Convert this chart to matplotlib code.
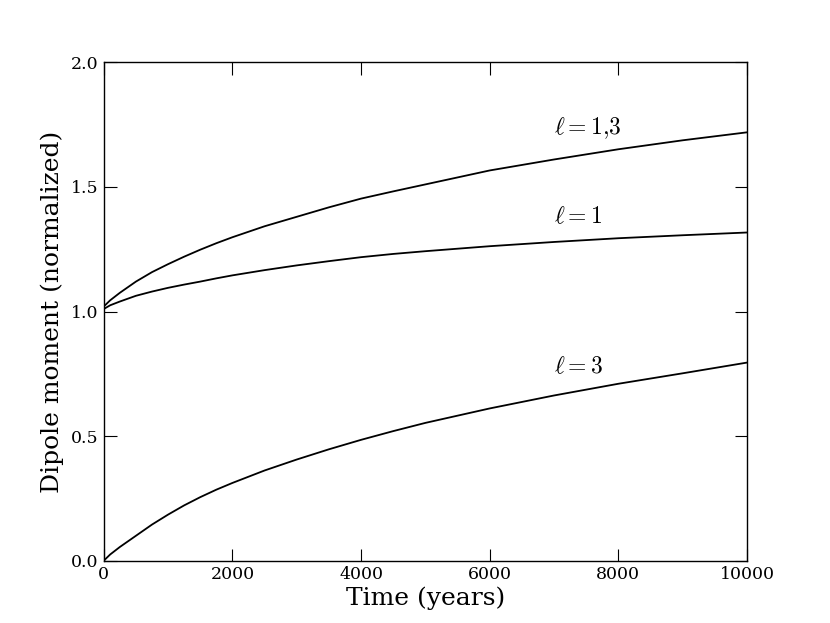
import numpy as np
import matplotlib
matplotlib.use("Agg")
import matplotlib.pyplot as plt

plt.rcParams['font.family'] = 'DejaVu Serif'
plt.rcParams['mathtext.fontset'] = 'cm'

#%% data

t = [0, 100, 250, 500, 750, 1000, 1250, 1500, 1750, 2000, 2500, 3000, 3500,
     4000, 4500, 5000, 6000, 7000, 8000, 9000, 10000]

dip13 = [1.02, 1.045, 1.075, 1.12, 1.158, 1.19, 1.22, 1.248, 1.274, 1.298, 1.342,
         1.38, 1.418, 1.453, 1.482, 1.51, 1.566, 1.61, 1.651, 1.687, 1.719]
dip1 = [1.01, 1.025, 1.04, 1.063, 1.08, 1.095, 1.108, 1.12, 1.133, 1.145, 1.166,
        1.185, 1.202, 1.218, 1.231, 1.242, 1.262, 1.279, 1.294, 1.306, 1.317]
dip3 = [0.0, 0.025, 0.055, 0.10, 0.145, 0.185, 0.222, 0.255, 0.285, 0.312, 0.362,
        0.406, 0.447, 0.485, 0.52, 0.553, 0.611, 0.663, 0.71, 0.752, 0.795]

labels = [r"$\ell=1{,}3$", r"$\ell=1$", r"$\ell=3$"]
label_y = [1.735, 1.38, 0.78]

#%% plot

fig = plt.figure(figsize=(8.3, 6.23), dpi=100)
ax = fig.add_axes([0.125, 0.1, 0.775, 0.8])

for y in (dip13, dip1, dip3):
    ax.plot(t, y, color="black", lw=1.3)

for lab, ly in zip(labels, label_y):
    ax.text(7000, ly, lab, fontsize=17, ha="left", va="center")

ax.set_xlim(0, 10000)
ax.set_ylim(0, 2.0)
ax.set_xticks(np.arange(0, 10001, 2000))
ax.set_yticks(np.arange(0, 2.01, 0.5))
ax.tick_params(direction="in", length=9, width=0.8, top=True, right=True,
               labelsize=12.5, pad=4)
for s in ax.spines.values():
    s.set_linewidth(1.0)

ax.set_xlabel("Time (years)", fontsize=18, labelpad=2)
ax.set_ylabel("Dipole moment (normalized)", fontsize=18, labelpad=5)

fig.savefig("out.png", dpi=100)
